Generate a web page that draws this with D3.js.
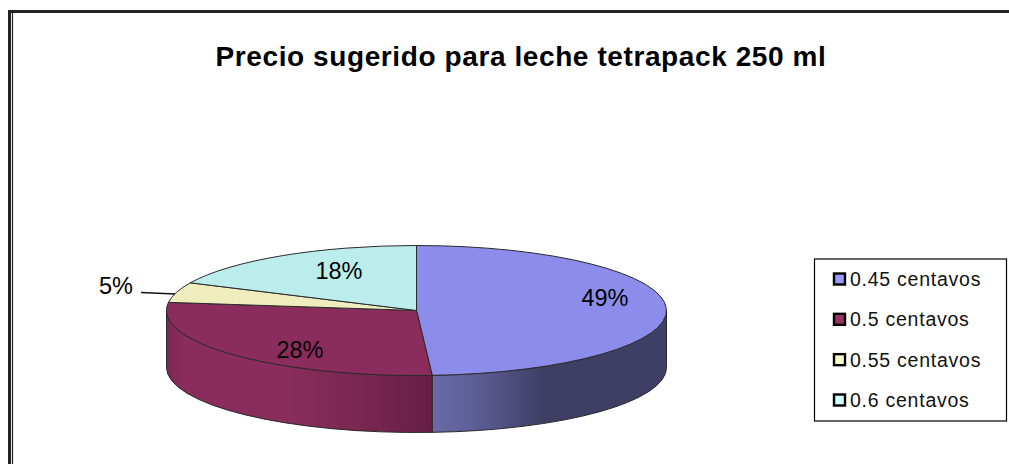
<!DOCTYPE html>
<html><head><meta charset="utf-8">
<script src="https://cdn.jsdelivr.net/npm/d3@7"></script>
<style>html,body{margin:0;padding:0;background:#fff}svg{display:block}text{font-family:"Liberation Sans",Arial,sans-serif}</style>
</head><body><div id="c"></div>
<script>
const titleText = "Precio sugerido para leche tetrapack 250 ml";
const categories = ["0.45 centavos","0.5 centavos","0.55 centavos","0.6 centavos"];
const values = [49,28,5,18];
const topColors = ["#8c8ceb","#8b2d5c","#efedbd","#bbeded"];
const legendColors = ["#9999ff","#993366","#ffffcc","#ccffff"];

const W=1009,H=464, cx=416.5, cy=310.5, rx=250, ry=65, depth=57, k=ry/rx, dk=depth/k;
const svg=d3.select("#c").append("svg").attr("width",W).attr("height",H).attr("viewBox",[0,0,W,H]);

// frame
svg.append("path").attr("d","M9.5 464V11.5H1009").attr("fill","none").attr("stroke","#222").attr("stroke-width",3);
svg.append("path").attr("d","M12.5 464V13").attr("fill","none").attr("stroke","#222").attr("stroke-width",1.2);

// gradients for the wall (x in the pie group's own coordinates)
const defs=svg.append("defs");
function grad(id,x1,x2,stops){
  const g=defs.append("linearGradient").attr("id",id).attr("gradientUnits","userSpaceOnUse")
    .attr("x1",x1-cx).attr("x2",x2-cx).attr("y1",0).attr("y2",0);
  stops.forEach(s=>g.append("stop").attr("offset",s[0]).attr("stop-color",s[1]));
}
grad("wall0",431,668,[[0,"#6a6aa8"],[0.2,"#5c5c95"],[0.47,"#3f3f66"],[1,"#3f3f66"]]);
grad("wall1",167,431,[[0,"#7a2851"],[0.06,"#8b2d5c"],[0.42,"#8b2d5c"],[0.75,"#782750"],[1,"#661f44"]]);

const pie=d3.pie().value(d=>d).sort(null).startAngle(0).endAngle(2*Math.PI);
const arcs=pie(values);
const arc=d3.arc().innerRadius(0).outerRadius(rx);
const g=svg.append("g").attr("transform",`translate(${cx},${cy}) scale(1,${k})`);

// wall (the front half of the disc)
arcs.forEach((a,i)=>{
  const a0=Math.max(a.startAngle,Math.PI/2), a1=Math.min(a.endAngle,3*Math.PI/2);
  if(a1<=a0) return;
  const p=d3.path();
  p.arc(0,0,rx,a0-Math.PI/2,a1-Math.PI/2,false);
  p.arc(0,dk,rx,a1-Math.PI/2,a0-Math.PI/2,true);
  p.closePath();
  g.append("path").attr("d",p.toString())
   .attr("fill",`url(#wall${i})`)
   .attr("stroke","#2a2a2a").attr("stroke-width",1).attr("vector-effect","non-scaling-stroke");
});
// top faces
g.selectAll("path.top").data(arcs).join("path").attr("class","top")
 .attr("d",arc).attr("fill",(d,i)=>topColors[i])
 .attr("stroke","#2a2a2a").attr("stroke-width",1).attr("vector-effect","non-scaling-stroke");

// percentage labels
const labelPos=[[605,306],[300,358],[116,294],[339,279]];
svg.selectAll("text.pct").data(values).join("text").attr("class","pct")
 .attr("x",(d,i)=>labelPos[i][0]).attr("y",(d,i)=>labelPos[i][1])
 .attr("text-anchor","middle").attr("font-size",23.5).attr("fill","#000").text(d=>d+"%");
svg.append("path").attr("d","M141 292.5L175 294").attr("stroke","#111").attr("stroke-width",1.3).attr("fill","none");

// title
svg.append("text").attr("x",521).attr("y",66).attr("text-anchor","middle")
 .attr("font-size",28).attr("font-weight","bold").attr("letter-spacing",0.6).attr("fill","#000").text(titleText);

// legend
svg.append("rect").attr("x",814.5).attr("y",259).attr("width",192).attr("height",162)
 .attr("fill","#fff").attr("stroke","#000").attr("stroke-width",1.2);
const row=d3.scalePoint().domain(categories).range([279,400]);
const lg=svg.selectAll("g.lg").data(categories).join("g").attr("class","lg").attr("transform",d=>`translate(0,${row(d)})`);
lg.append("rect").attr("x",834).attr("y",-5.5).attr("width",11).attr("height",11)
 .attr("fill",(d,i)=>legendColors[i]).attr("stroke","#000").attr("stroke-width",2.4);
lg.append("text").attr("x",850).attr("y",7).attr("font-size",19.5).attr("letter-spacing",0.75).attr("fill","#111").text(d=>d);
</script></body></html>
